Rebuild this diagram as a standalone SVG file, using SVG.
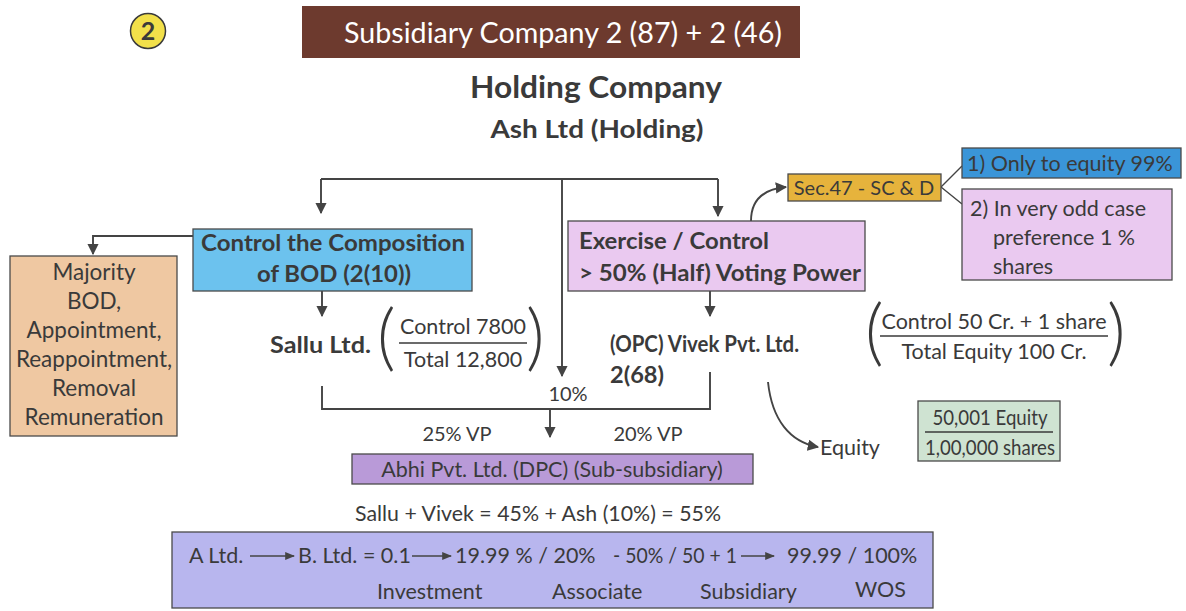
<svg xmlns="http://www.w3.org/2000/svg" width="1186" height="611" viewBox="0 0 1186 611">
  <style>
    text { font-family: Lato, "Open Sans", "Liberation Sans", sans-serif; fill: #3a3a3a; font-size: 21.5px; }
    .b { font-weight: bold; font-size: 23.5px; }
    .m { text-anchor: middle; }
    .box { stroke: #4a4a4a; stroke-width: 1.3; }
    .wire { fill: none; stroke: #444; stroke-width: 1.9; }
    .thin { fill: none; stroke: #444; stroke-width: 1.4; }
    .rule { stroke: #3a3a3a; stroke-width: 1.5; }
    .paren { font-weight: 300; font-size: 72px; }
    .tan text { font-size: 22.5px; }
  </style>
  <defs>
    <marker id="ah" viewBox="0 0 10 10" refX="9" refY="5" markerWidth="6" markerHeight="6" markerUnits="strokeWidth" orient="auto">
      <path d="M0 0 L10 5 L0 10 Z" fill="#444"/>
    </marker>
    <marker id="ahs" viewBox="0 0 10 10" refX="9" refY="5" markerWidth="7" markerHeight="7" markerUnits="strokeWidth" orient="auto">
      <path d="M0 1 L10 5 L0 9 Z" fill="#444"/>
    </marker>
  </defs>
  <rect width="1186" height="611" fill="#ffffff"/>

  <!-- header -->
  <g id="badge">
    <circle cx="148" cy="31" r="17.5" fill="#f2e04a" stroke="#3a3a3a" stroke-width="1.5"/>
    <text x="148" y="40" class="b m" style="font-size:25px">2</text>
  </g>
  <g id="title">
    <rect x="302" y="6" width="498" height="52" fill="#6d3a2e"/>
    <text x="563" y="43" class="m" style="font-size:28px;fill:#ffffff" textLength="438" lengthAdjust="spacingAndGlyphs">Subsidiary Company 2 (87) + 2 (46)</text>
  </g>
  <g id="holding">
    <text x="596" y="98" class="b m" style="font-size:30px" textLength="252" lengthAdjust="spacingAndGlyphs">Holding Company</text>
    <text x="597" y="138" class="b m" style="font-size:25px" textLength="213" lengthAdjust="spacingAndGlyphs">Ash Ltd (Holding)</text>
  </g>

  <!-- connectors -->
  <g id="connectors">
    <path class="wire" d="M321 179 H718"/>
    <path class="wire" d="M321 179 V213" marker-end="url(#ah)"/>
    <path class="wire" d="M718 179 V216" marker-end="url(#ah)"/>
    <path class="wire" d="M562 179 V376" marker-end="url(#ah)"/>
    <path class="wire" d="M193 236 H93 V254" marker-end="url(#ah)"/>
    <path class="wire" d="M322 291 V316" marker-end="url(#ah)"/>
    <path class="wire" d="M710 291 V316" marker-end="url(#ah)"/>
    <path class="wire" d="M322 386 V409 H710 V372"/>
    <path class="wire" d="M550 409 V437" marker-end="url(#ah)"/>
    <path class="wire" d="M751 221 C751 200 764 189 786 187" marker-end="url(#ah)"/>
    <path class="thin" d="M941 187 L962 166 M941 187 L962 204"/>
    <path class="wire" d="M768 382 C772 420 790 442 818 447" marker-end="url(#ah)"/>
  </g>

  <!-- left branch: board composition -->
  <g id="bod">
    <rect class="box" x="193" y="229" width="279" height="62" fill="#6cc2ee"/>
    <text x="333" y="251" class="b m" textLength="264" lengthAdjust="spacingAndGlyphs">Control the Composition</text>
    <text x="334" y="282" class="b m" textLength="154" lengthAdjust="spacingAndGlyphs">of BOD (2(10))</text>
  </g>
  <g id="majority" class="tan">
    <rect class="box" x="10" y="256" width="167" height="180" fill="#efc8a2"/>
    <text x="94" y="280" class="m">Majority</text>
    <text x="94" y="309" class="m">BOD,</text>
    <text x="94" y="338" class="m">Appointment,</text>
    <text x="94" y="367" class="m">Reappointment,</text>
    <text x="94" y="396" class="m">Removal</text>
    <text x="94" y="425" class="m">Remuneration</text>
  </g>
  <g id="sallu">
    <text x="270" y="353" class="b" textLength="101" lengthAdjust="spacingAndGlyphs">Sallu Ltd.</text>
    <text x="377" y="362" class="paren">(</text>
    <text x="463" y="334" class="m">Control 7800</text>
    <line class="rule" x1="399" y1="343" x2="527" y2="343"/>
    <text x="463" y="367" class="m">Total 12,800</text>
    <text x="526" y="362" class="paren">)</text>
  </g>

  <!-- right branch: voting power -->
  <g id="voting">
    <rect class="box" x="568" y="221" width="297" height="70" fill="#eac9f0"/>
    <text x="579" y="249" class="b" textLength="190" lengthAdjust="spacingAndGlyphs">Exercise / Control</text>
    <text x="579" y="281" class="b" textLength="282" lengthAdjust="spacingAndGlyphs">&gt; 50% (Half) Voting Power</text>
  </g>
  <g id="sec47">
    <rect class="box" x="788" y="174" width="153" height="27" fill="#e6b33c"/>
    <text x="864" y="195" class="m" style="font-size:20px">Sec.47 - SC &amp; D</text>
  </g>
  <g id="equity99">
    <rect class="box" x="962" y="148" width="219" height="30" fill="#3a95d8"/>
    <text x="967" y="171">1) Only to equity 99%</text>
  </g>
  <g id="preference">
    <rect class="box" x="962" y="189" width="210" height="91" fill="#eac9f0"/>
    <text x="970" y="216">2) In very odd case</text>
    <text x="993" y="245">preference 1 %</text>
    <text x="993" y="274">shares</text>
  </g>
  <g id="vivek">
    <text x="610" y="352" class="b" textLength="189" lengthAdjust="spacingAndGlyphs">(OPC) Vivek Pvt. Ltd.</text>
    <text x="610" y="383" class="b" textLength="54" lengthAdjust="spacingAndGlyphs">2(68)</text>
  </g>
  <g id="vivek-share">
    <text x="865" y="357" class="paren">(</text>
    <text x="994" y="329" class="m">Control 50 Cr. + 1 share</text>
    <line class="rule" x1="880" y1="336" x2="1108" y2="336"/>
    <text x="994" y="359" class="m">Total Equity 100 Cr.</text>
    <text x="1107" y="357" class="paren">)</text>
  </g>
  <g id="equity">
    <text x="820" y="455">Equity</text>
  </g>
  <g id="shares">
    <rect class="box" x="918" y="401" width="142" height="60" fill="#cfe3d2"/>
    <text x="990" y="425" class="m" textLength="115" lengthAdjust="spacingAndGlyphs">50,001 Equity</text>
    <line class="rule" x1="925" y1="432" x2="1053" y2="432"/>
    <text x="990" y="455" class="m" textLength="130" lengthAdjust="spacingAndGlyphs">1,00,000 shares</text>
  </g>

  <!-- sub-subsidiary -->
  <g id="abhi">
    <text x="568" y="401" class="m" style="font-size:20px">10%</text>
    <text x="457" y="441" class="m" style="font-size:20px">25% VP</text>
    <text x="648" y="441" class="m" style="font-size:20px">20% VP</text>
    <rect class="box" x="352" y="454" width="401" height="30" fill="#b99ad8"/>
    <text x="552" y="477" class="m">Abhi Pvt. Ltd. (DPC) (Sub-subsidiary)</text>
    <text x="538" y="521" class="m" style="font-size:20.5px" textLength="366" lengthAdjust="spacingAndGlyphs">Sallu + Vivek = 45% + Ash (10%) = 55%</text>
  </g>

  <!-- holding spectrum -->
  <g id="spectrum">
    <rect class="box" x="172" y="532" width="761" height="76" fill="#b8b6ee"/>
    <text x="189" y="563">A Ltd.</text>
    <text x="298" y="563">B. Ltd. = 0.1</text>
    <text x="455" y="563">19.99 % / 20%</text>
    <text x="613" y="563" textLength="124" lengthAdjust="spacingAndGlyphs">- 50% / 50 + 1</text>
    <text x="787" y="563">99.99 / 100%</text>
    <text x="377" y="599">Investment</text>
    <text x="552" y="599">Associate</text>
    <text x="700" y="599">Subsidiary</text>
    <text x="855" y="597">WOS</text>
    <path class="thin" d="M250 556 H294" marker-end="url(#ahs)"/>
    <path class="thin" d="M412 556 H451" marker-end="url(#ahs)"/>
    <path class="thin" d="M741 556 H774" marker-end="url(#ahs)"/>
  </g>
</svg>
